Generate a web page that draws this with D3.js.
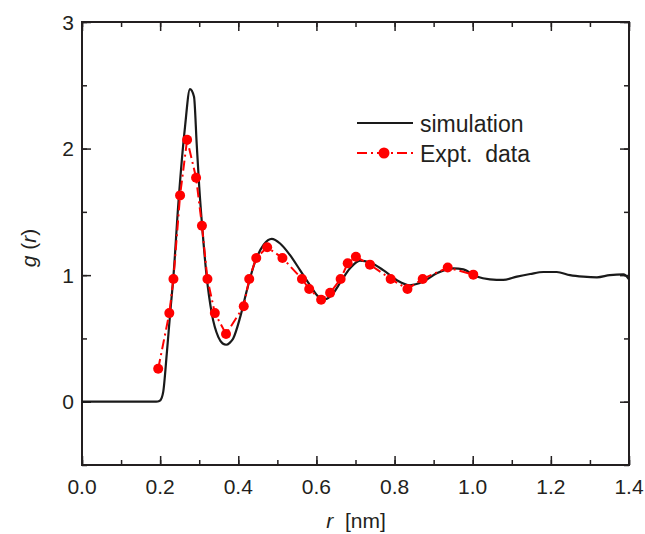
<!DOCTYPE html>
<html><head><meta charset="utf-8">
<script src="https://cdn.jsdelivr.net/npm/d3@7"></script>
<style>body{margin:0;background:#fff}svg{display:block}text{font-family:"Liberation Sans",Arial,sans-serif;fill:#231f20}</style>
</head><body>
<script>
// Simulation g(r)
const simR = [0,0.15,0.19,0.198,0.204,0.208,0.217,0.2257,0.234,0.2467,0.2636,0.2764,0.2867,0.2935,0.300,0.309,0.319,0.332,0.349,0.360,0.369,0.378,0.387,0.405,0.422,0.443,0.465,0.4855,0.507,0.532,0.558,0.5836,0.609,0.622,0.643,0.660,0.686,0.7115,0.737,0.771,0.806,0.8395,0.873,0.908,0.951,0.976,1.010,1.044,1.078,1.113,1.147,1.181,1.215,1.249,1.283,1.318,1.351,1.386,1.400];
const simG = [0,0,0,0.005,0.03,0.08,0.38,0.70,0.99,1.57,2.17,2.47,2.41,2.04,1.70,1.33,0.99,0.70,0.51,0.46,0.45,0.465,0.50,0.67,0.88,1.107,1.24,1.286,1.25,1.16,1.04,0.92,0.82,0.81,0.857,0.936,1.054,1.115,1.10,1.04,0.96,0.92,0.949,1.015,1.054,1.046,0.99,0.967,0.962,0.988,1.009,1.025,1.025,1.0,0.988,0.983,1.0,1.006,0.967];
// Experimental data
const expR = [0.195,0.2235,0.234,0.251,0.269,0.292,0.307,0.321,0.340,0.3686,0.414,0.428,0.446,0.474,0.513,0.563,0.5815,0.612,0.635,0.662,0.680,0.701,0.737,0.790,0.833,0.872,0.936,1.0015];
const expG = [0.26,0.70,0.97,1.63,2.07,1.77,1.39,0.97,0.70,0.535,0.754,0.97,1.136,1.22,1.136,0.97,0.89,0.806,0.86,0.97,1.094,1.146,1.083,0.97,0.89,0.97,1.06,1.004];
const xTicks = [0,0.2,0.4,0.6,0.8,1.0,1.2,1.4];
const yTicks = [0,1,2,3];
const legendLabels = ["simulation","Expt.  data"];

const W=645,H=534, L=82,R=629,T=22,B=465;
const svg=d3.select("body").append("svg").attr("width",W).attr("height",H);
const x=d3.scaleLinear().domain([0,1.4]).range([L,R]);
const y=d3.scaleLinear().domain([-0.5,3]).range([B,T]);
const ink="#231f20";

const minorX=d3.range(0,15).map(i=>i/10), minorY=d3.range(-1,7).map(i=>i/2);
function tickAxis(axis,sel){sel.call(axis);sel.select(".domain").remove();sel.selectAll("line").attr("stroke",ink).attr("stroke-width",1.5);}
// bottom
const gb=svg.append("g").attr("transform",`translate(0,${B})`);
tickAxis(d3.axisTop(x).tickValues(minorX).tickSize(5).tickFormat(""),gb.append("g"));
tickAxis(d3.axisTop(x).tickValues(xTicks).tickSize(9).tickFormat(""),gb.append("g"));
gb.selectAll(".lab").data(xTicks).enter().append("text").attr("x",d=>x(d)).attr("y",29).attr("text-anchor","middle").attr("font-size",21).text(d3.format(".1f"));
// top
const gt=svg.append("g").attr("transform",`translate(0,${T})`);
tickAxis(d3.axisBottom(x).tickValues(minorX).tickSize(5).tickFormat(""),gt.append("g"));
tickAxis(d3.axisBottom(x).tickValues(xTicks).tickSize(9).tickFormat(""),gt.append("g"));
// left
const gl=svg.append("g").attr("transform",`translate(${L},0)`);
tickAxis(d3.axisRight(y).tickValues(minorY).tickSize(5).tickFormat(""),gl.append("g"));
tickAxis(d3.axisRight(y).tickValues(yTicks).tickSize(9).tickFormat(""),gl.append("g"));
gl.selectAll(".lab").data(yTicks).enter().append("text").attr("x",-8).attr("y",d=>y(d)+7.5).attr("text-anchor","end").attr("font-size",21).text(d=>d);
// right
const gr=svg.append("g").attr("transform",`translate(${R},0)`);
tickAxis(d3.axisLeft(y).tickValues(minorY).tickSize(5).tickFormat(""),gr.append("g"));
tickAxis(d3.axisLeft(y).tickValues(yTicks).tickSize(9).tickFormat(""),gr.append("g"));
// frame
svg.append("rect").attr("x",L).attr("y",T).attr("width",R-L).attr("height",B-T).attr("fill","none").attr("stroke",ink).attr("stroke-width",2);

// clip
svg.append("clipPath").attr("id","c").append("rect").attr("x",L).attr("y",T).attr("width",R-L).attr("height",B-T);
const line=d3.line().x(d=>x(d[0])).y(d=>y(d[1])).curve(d3.curveMonotoneX);
svg.append("path").datum(d3.zip(simR,simG)).attr("clip-path","url(#c)").attr("d",line).attr("fill","none").attr("stroke","#1a1a1a").attr("stroke-width",2.2);
const eline=d3.line().x(d=>x(d[0])).y(d=>y(d[1]));
svg.append("path").datum(d3.zip(expR,expG)).attr("d",eline).attr("fill","none").attr("stroke","#ff0000").attr("stroke-width",2).attr("stroke-dasharray","10,4,2,4");
svg.selectAll(".pt").data(d3.zip(expR,expG)).enter().append("circle").attr("cx",d=>x(d[0])).attr("cy",d=>y(d[1])).attr("r",5).attr("fill","#ff0000");

// legend
const lg=svg.append("g");
lg.append("line").attr("x1",357).attr("x2",413).attr("y1",123).attr("y2",123).attr("stroke","#1a1a1a").attr("stroke-width",2);
lg.append("text").attr("x",420).attr("y",132).attr("font-size",23).text(legendLabels[0]);
lg.append("line").attr("x1",357).attr("x2",413).attr("y1",153).attr("y2",153).attr("stroke","#ff0000").attr("stroke-width",2).attr("stroke-dasharray","10,4,2,4");
lg.append("circle").attr("cx",384).attr("cy",153).attr("r",5.5).attr("fill","#ff0000");
lg.append("text").attr("x",420).attr("y",162).attr("font-size",23).style("white-space","pre").text(legendLabels[1]);

// axis titles
const xt=svg.append("text").attr("x",356).attr("y",528).attr("text-anchor","middle").attr("font-size",21).style("white-space","pre");
xt.append("tspan").attr("font-style","italic").text("r");
xt.append("tspan").text("  [nm]");
const yt=svg.append("text").attr("transform","translate(36,248) rotate(-90)").attr("text-anchor","middle").attr("font-size",21);
yt.append("tspan").attr("font-style","italic").text("g");
yt.append("tspan").text(" (");
yt.append("tspan").attr("font-style","italic").text("r");
yt.append("tspan").text(")");
</script>
</body></html>
